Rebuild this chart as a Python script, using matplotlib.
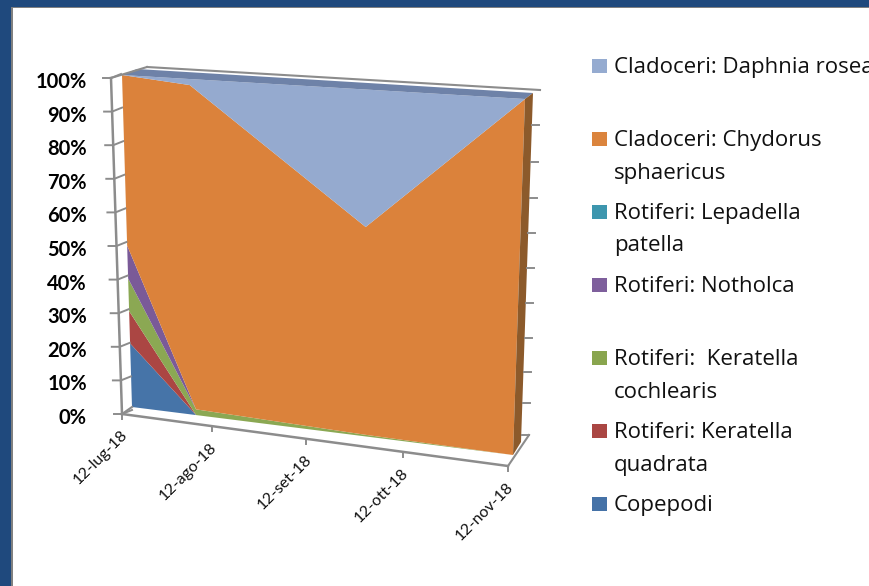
import matplotlib
matplotlib.use("Agg")
import matplotlib.pyplot as plt
import matplotlib.dates as mdates
import numpy as np
import pandas as pd
from matplotlib.patches import Polygon, Rectangle
from matplotlib.transforms import Transform

# sampling dates and stacked percentages
sample_dates = ["2018-07-12", "2018-08-03", "2018-09-27", "2018-11-12"]
copepodi = [20, 0, 0, 0]
keratella_quadrata = [10, 0, 0, 0]
keratella_cochlearis = [10, 1.8, 0.5, 0]
notholca = [10, 0, 0, 0]
lepadella = [0, 0, 0, 0]
chydorus = [50, 96.5, 61.2, 100]
daphnia = [0, 1.7, 38.3, 0]

tick_dates = ["2018-07-12", "2018-08-12", "2018-09-12", "2018-10-12", "2018-11-12"]
tick_labels = ["12-lug-18", "12-ago-18", "12-set-18", "12-ott-18", "12-nov-18"]
pct_ticks = list(range(0, 101, 10))

legend_lines = [
    ["Cladoceri: Daphnia rosea"],
    ["Cladoceri: Chydorus", "sphaericus"],
    ["Rotiferi: Lepadella", "patella"],
    ["Rotiferi: Notholca"],
    ["Rotiferi:  Keratella", "cochlearis"],
    ["Rotiferi: Keratella", "quadrata"],
    ["Copepodi"],
]
legend_colors = ["#95ABD0", "#DB843D", "#3D96AE", "#7E5F9C", "#89A54E", "#AA4643", "#4572A7"]
series_colors = ["#4674A8", "#AB4643", "#8BA853", "#7A5A98", "#3D96AE", "#DB823B", "#95AACF"]

# far wall tick heights, they bunch up with the perspective
far_tick_y = [435, 403, 372, 338, 303, 268, 233, 198, 162, 125]

LINE = "#8C8C8C"
NAVY = "#1F497D"


class Perspective(Transform):
    # maps a (date, percent) plane onto a pixel quad
    input_dims = 2
    output_dims = 2

    def __init__(self, x0, x1, quad):
        super().__init__()
        src = [(x0, 0), (x0, 100), (x1, 0), (x1, 100)]
        rows, rhs = [], []
        for (u, v), (px, py) in zip(src, quad):
            rows.append([u, v, 1, 0, 0, 0, -u * px, -v * px])
            rows.append([0, 0, 0, u, v, 1, -u * py, -v * py])
            rhs += [px, py]
        h = np.linalg.solve(np.array(rows, float), np.array(rhs, float))
        self.h = np.append(h, 1).reshape(3, 3)

    def transform_non_affine(self, values):
        pts = np.column_stack([values, np.ones(len(values))]) @ self.h.T
        return pts[:, :2] / pts[:, 2:]


x = mdates.date2num(pd.to_datetime(sample_dates))
xt = mdates.date2num(pd.to_datetime(tick_dates))
x0, x1 = xt[0], xt[-1]

fig = plt.figure(figsize=(8.7, 5.86), dpi=100)
ax = fig.add_axes([0, 0, 1, 1])
ax.set_axis_off()

# front face of the areas, and the plane the date axis sits on
front = Perspective(x0, x1, [(132, 407), (122, 75), (513, 455), (525, 99)]) + ax.transData
rim = Perspective(x0, x1, [(122, 414), (111, 78), (508, 466), (524, 93)]) + ax.transData

# axis frame behind the areas
ax.plot([111, 122], [78, 414], color=LINE, lw=1.8)
ax.plot([122, 508], [414, 466], color=LINE, lw=1.8)
ax.plot([122, 132], [414, 407], color=LINE, lw=1.5)
ax.plot([508, 529], [466, 435], color=LINE, lw=1.5)
ax.plot([111, 147], [78, 67], color=LINE, lw=1.5)
ax.plot([147, 540], [67, 90], color=LINE, lw=1.5)

for p in pct_ticks:
    tx = 122 - 11 * p / 100
    ty = 414 - 336 * p / 100
    ax.plot([tx - 8, tx, tx + 10], [ty, ty, ty - 4], color=LINE, lw=1.4)
    ax.text(87, ty + 4, f"{p}%", ha="right", va="center", fontsize=14.5,
            fontweight="bold", family="Lato", color="#000000")

for wy in far_tick_y:
    wx = 522 + 11 * (435 - wy) / 342
    ax.plot([wx, wx + 7], [wy, wy], color=LINE, lw=1.4)

for d, lab in zip(xt, tick_labels):
    tx, ty = ax.transData.inverted().transform(rim.transform((d, 0)))
    ax.plot([tx, tx], [ty, ty + 5], color=LINE, lw=1.4)
    ax.text(tx - 2, ty + 14, lab, rotation=45, rotation_mode="anchor", ha="right", va="top",
            fontsize=11.5, family="Lato", color="#111111")

# stacked areas
stack = [copepodi, keratella_quadrata, keratella_cochlearis, notholca, lepadella, chydorus, daphnia]
ax.stackplot(x, *stack, colors=series_colors, transform=front, edgecolor="none", linewidth=0)

# top band and right side of the block
ax.add_patch(Polygon([(122, 75), (137, 69), (533, 93), (525, 99)], fc="#6E82A8", ec="none"))
ax.add_patch(Polygon([(525, 99), (533, 93), (521, 442), (513, 455)], fc="#8C5A2B", ec="none"))

# legend
y = 66
for color, lines in zip(legend_colors, legend_lines):
    ax.add_patch(Rectangle((592, y - 7), 15, 14, fc=color, ec="none"))
    for i, line in enumerate(lines):
        ax.text(614, y + 1.5 + i * 32.5, line, va="center", ha="left", fontsize=16,
                family="Open Sans", color="#111111")
    y += 73

# slide frame
ax.add_patch(Rectangle((0, 0), 870, 7, fc=NAVY, ec="none"))
ax.add_patch(Rectangle((0, 0), 11, 586, fc=NAVY, ec="none"))
ax.add_patch(Rectangle((11, 7), 859, 1.2, fc="#808080", ec="none"))
ax.add_patch(Rectangle((11, 7), 1.6, 579, fc="#808080", ec="none"))

ax.set_xlim(0, 870)
ax.set_ylim(586, 0)
fig.savefig("out.png", dpi=100)
